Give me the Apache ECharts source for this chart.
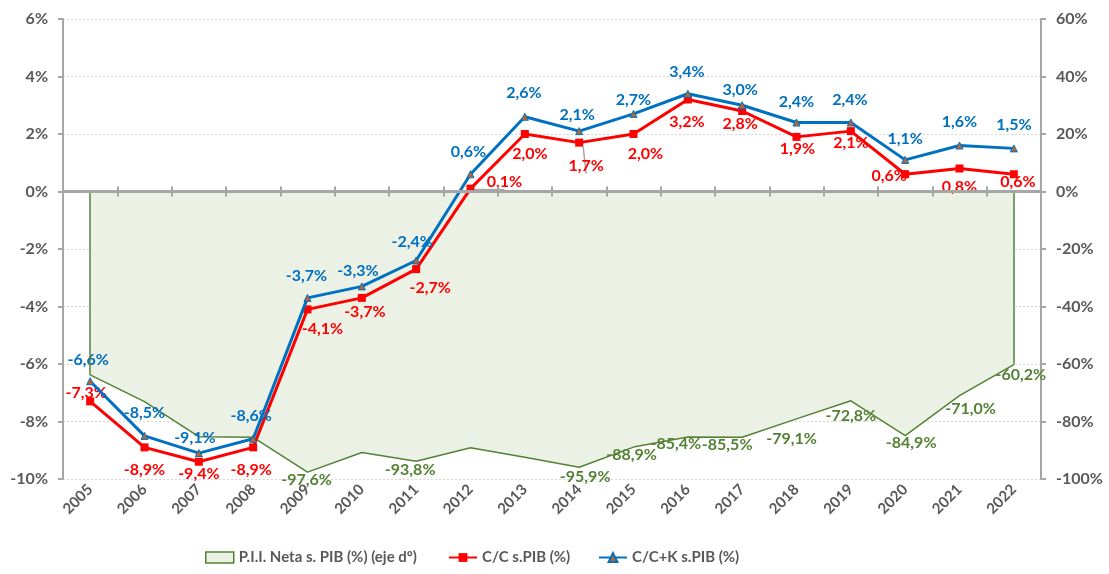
<!DOCTYPE html>
<html><head><meta charset="utf-8">
<script src="https://cdn.jsdelivr.net/npm/echarts@6/dist/echarts.min.js"></script>
<style>html,body{margin:0;padding:0;background:#fff}#c{width:1109px;height:574px}</style>
</head><body><div id="c"></div>
<script>
// ---- data ----
const years = ['2005','2006','2007','2008','2009','2010','2011','2012','2013','2014','2015','2016','2017','2018','2019','2020','2021','2022'];
const ccPib  = [-7.3,-8.9,-9.4,-8.9,-4.1,-3.7,-2.7,0.1,2.0,1.7,2.0,3.2,2.8,1.9,2.1,0.6,0.8,0.6];
const cckPib = [-6.6,-8.5,-9.1,-8.6,-3.7,-3.3,-2.4,0.6,2.6,2.1,2.7,3.4,3.0,2.4,2.4,1.1,1.6,1.5];
const piiNeta = [-63.8,-73.1,-85.3,-85.5,-97.6,-90.8,-93.8,-89.1,-92.4,-95.9,-88.9,-85.4,-85.5,-79.1,-72.8,-84.9,-71.0,-60.2];
const seriesNames = ['P.I.I. Neta s. PIB (%) (eje dº)','C/C s.PIB (%)','C/C+K s.PIB (%)'];

// ---- label placement (style only) ----
const blueOff = [[-2,-21],[0,-23],[-4,-15],[-2,-23],[-1,-22],[-4,-16],[-4,-19],[-2,-22],[-1,-24],[-2,-16],[0,-14],[-1,-22],[-2,-15],[0,-21],[-1,-23],[0,-21],[0,-24],[0,-24]];
const redOff  = [[-4,-9],[0,22],[0,12],[-2,22],[15,19],[3,14],[14,19],[34,-7],[5,20],[7,23],[12,20],[-1,22],[-2,13],[1,12],[0,12],[-16,2],[0,18],[4,8]];
const greenOff = [null,null,null,null,[-1,8],null,[-6,9],null,null,[6,10],[-2,8],[-12,7],[-15,8],[-5,20],[0,15],[6,7],[11,13],[7,10]];
const leaderIdx = [7,9];
const legendLeft = [205, 448, 598];

const FONT = 'Lato, "Open Sans", sans-serif';
const GRAY = '#595959';
const AXIS = '#A6A6A6';
const GREEN = '#548235';
const fmt = v => v.toFixed(1).replace('.', ',') + '%';

function items(vals, offs, color, withLeader) {
  return vals.map((v, i) => {
    const o = offs[i];
    const it = { value: v, label: o ? { show: true, position: 'inside', offset: o, color: color } : { show: false } };
    if (withLeader && leaderIdx.indexOf(i) >= 0) {
      it.labelLine = { show: true, lineStyle: { color: AXIS, width: 1.5 } };
    }
    return it;
  });
}

const legendText = { fontFamily: FONT, fontWeight: 'bold', fontSize: 15, color: GRAY };
const legendIcons = [
  { name: seriesNames[0], icon: 'rect', itemStyle: { color: '#EBF1E4', borderColor: GREEN, borderWidth: 1.5 } },
  { name: seriesNames[1] },
  { name: seriesNames[2] }
];

const chart = echarts.init(document.getElementById('c'));
chart.setOption({
  animation: false,
  backgroundColor: '#fff',
  textStyle: { fontFamily: FONT },
  grid: { left: 63, right: 68, top: 19, bottom: 95 },
  legend: legendIcons.map((d, i) => ({
    left: legendLeft[i], top: 550, itemGap: 0, itemWidth: 28, itemHeight: 11, padding: 0,
    textStyle: legendText, data: [d]
  })),
  xAxis: [
    { type: 'category', data: years, position: 'bottom', boundaryGap: true,
      axisLine: { onZero: true, lineStyle: { color: AXIS, width: 3 } },
      axisTick: { show: true, interval: 0, inside: true, length: 5, lineStyle: { color: AXIS, width: 2 } },
      axisLabel: { show: false }, z: 5 },
    { type: 'category', data: years, position: 'bottom', boundaryGap: true,
      axisLine: { show: false, onZero: false }, axisTick: { show: false },
      axisLabel: { show: true, interval: 0, rotate: 45, margin: 8, fontFamily: FONT, fontWeight: 'bold', fontSize: 15, color: GRAY } },
    { type: 'category', data: years, position: 'bottom', boundaryGap: true,
      axisLine: { onZero: true, show: true, lineStyle: { color: AXIS, width: 0, opacity: 0 } },
      axisTick: { show: true, interval: 0, inside: false, length: 5, lineStyle: { color: AXIS, width: 2 } },
      axisLabel: { show: false }, z: 5 }
  ],
  yAxis: [
    { type: 'value', min: -10, max: 6, interval: 2, position: 'left',
      axisLine: { show: true, lineStyle: { color: AXIS, width: 2 } },
      axisTick: { show: true, length: 5, lineStyle: { color: AXIS, width: 2 } },
      splitLine: { show: true, lineStyle: { color: '#D6D6D6', type: [2, 2], width: 1 } },
      axisLabel: { formatter: '{value}%', margin: 15, fontFamily: FONT, fontWeight: 'bold', fontSize: 16, color: GRAY } },
    { type: 'value', min: -100, max: 60, interval: 20, position: 'right',
      axisLine: { show: true, lineStyle: { color: AXIS, width: 2 } },
      axisTick: { show: true, length: 5, lineStyle: { color: AXIS, width: 2 } },
      splitLine: { show: false },
      axisLabel: { formatter: '{value}%', margin: 15, fontFamily: FONT, fontWeight: 'bold', fontSize: 16, color: GRAY } }
  ],
  series: [
    { name: seriesNames[0], type: 'line', xAxisIndex: 0, yAxisIndex: 1,
      data: items(piiNeta, greenOff, GREEN, false),
      symbol: 'circle', symbolSize: 0.1, showSymbol: true,
      itemStyle: { color: 'rgba(0,0,0,0)' },
      lineStyle: { color: GREEN, width: 1.5 },
      areaStyle: { color: '#EBF1E4', opacity: 1 },
      label: { fontFamily: FONT, fontWeight: 'bold', fontSize: 16, color: GREEN, formatter: p => fmt(p.value) },
      markLine: { silent: true, symbol: ['none', 'none'], label: { show: false },
        lineStyle: { color: GREEN, width: 1.5, type: 'solid' },
        data: [
          [{ coord: [years[0], 0] }, { coord: [years[0], piiNeta[0]] }],
          [{ coord: [years[years.length - 1], 0] }, { coord: [years[years.length - 1], piiNeta[piiNeta.length - 1]] }]
        ] },
      z: 1 },
    { name: seriesNames[1], type: 'line', xAxisIndex: 0, yAxisIndex: 0,
      data: items(ccPib, redOff, '#FF0000', true),
      symbol: 'rect', symbolSize: 8,
      itemStyle: { color: '#FF0000' },
      lineStyle: { color: '#FF0000', width: 3 },
      label: { fontFamily: FONT, fontWeight: 'bold', fontSize: 16, color: '#FF0000', formatter: p => fmt(p.value) },
      labelLine: { show: false },
      z: 3 },
    { name: seriesNames[2], type: 'line', xAxisIndex: 0, yAxisIndex: 0,
      data: items(cckPib, blueOff, '#0070C0', false),
      symbol: 'triangle', symbolSize: 7,
      itemStyle: { color: '#B8672E', borderColor: '#0070C0', borderWidth: 1 },
      lineStyle: { color: '#0070C0', width: 3 },
      label: { fontFamily: FONT, fontWeight: 'bold', fontSize: 16, color: '#0070C0', formatter: p => fmt(p.value) },
      z: 4 }
  ]
});
</script>
</body></html>
